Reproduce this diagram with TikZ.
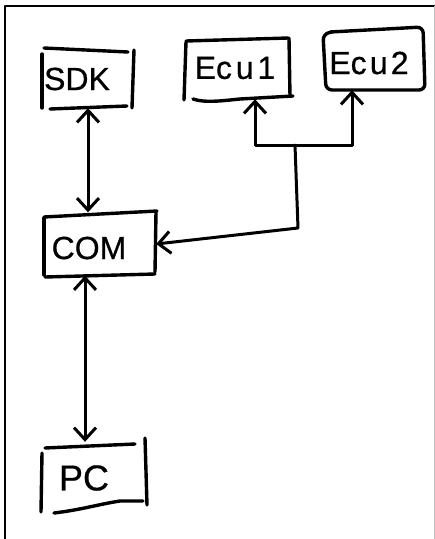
\documentclass[tikz,border=0pt]{standalone}
\usepackage{fontspec}
\setmainfont{Liberation Sans}
\usetikzlibrary{arrows.meta}
\begin{document}
\begin{tikzpicture}[x=1pt,y=-1pt,line cap=round,line join=round,
  pen/.style={line width=3.4pt},
  frame/.style={line width=2pt},
  box/.style={draw=none,inner sep=0pt},
  txt/.style={font=\fontsize{32}{36}\selectfont\addfontfeature{FakeBold=0.6}},
  conn/.style={line width=3pt,>={Straight Barb[length=12pt,width=22pt]}}]
\useasboundingbox (0,0) rectangle (435,539);
% outer frame
\draw[frame] (5,539) -- (5,6) -- (435,6);
\draw[line width=1pt,black!25] (434.5,6) -- (434.5,539);

% nodes (box areas)
\node[box,minimum width=92pt,minimum height=58pt,
      label={[txt,xshift=-11pt]center:SDK}] (sdk) at (88,79) {};
\node[box,minimum width=104pt,minimum height=60pt,
      label={[txt,xshift=-2pt,yshift=1pt]center:E\addfontfeature{LetterSpace=12}cu1}] (ecu1) at (237,69) {};
\node[box,minimum width=101pt,minimum height=62pt,
      label={[txt,xshift=-6pt,yshift=-4pt]center:E\addfontfeature{LetterSpace=10}cu2}] (ecu2) at (375,59) {};
\node[box,minimum width=112pt,minimum height=63pt,
      label={[txt,xshift=-11pt,yshift=-4pt]center:COM}] (com) at (100,244) {};
\node[box,minimum width=104pt,minimum height=68pt,
      label={[txt,font=\fontsize{36}{40}\selectfont\addfontfeature{FakeBold=0.6},xshift=-11pt,yshift=-2pt]center:PC}] (pc) at (95,476) {};

% hand-drawn box outlines
% SDK
\draw[pen] (44,48) -- (128,52);
\draw[pen] (42,54) -- (42,108);
\draw[pen] (134,50) -- (132,108);
\draw[pen] (50,109) -- (127,106);
% Ecu1
\draw[pen] (186,41) -- (288,38);
\draw[pen] (186,42) -- (184,100);
\draw[pen] (289,38) -- (290,96);
\draw[pen] (193,99) .. controls (205,103) and (220,101) .. (240,99) -- (293,96);
% Ecu2
\draw[pen,rounded corners=6pt] (330,32) -- (423,27) -- (425,90) -- (326,90) -- (323,34) -- (332,32);
% COM
\draw[pen] (44,217) -- (157,211);
\draw[pen] (44,218) -- (44,275);
\draw[pen] (156,212) -- (155,272);
\draw[pen] (45,277) -- (155,274);
% PC
\draw[pen] (45,448) -- (135,444);
\draw[pen] (42,453) -- (41,512);
\draw[pen] (145,438) -- (147,505);
\draw[pen] (54,513) .. controls (80,510) and (100,504) .. (120,501) -- (143,501);

% connectors
\draw[conn,<->] (sdk.south) -- (sdk.south |- com.north);
\draw[conn,<->] ([xshift=-15pt]com.south) -- ([xshift=-15pt]com.south |- pc.north);
\coordinate (j) at (295,145);
\coordinate (k) at (298,228);
\draw[conn,->] (j) -| ([xshift=18pt]ecu1.south);
\draw[conn,->] (j) -| ([xshift=-23pt]ecu2.south);
\draw[conn,->] (j) -- (k) -- (com.east);
\end{tikzpicture}
\end{document}
